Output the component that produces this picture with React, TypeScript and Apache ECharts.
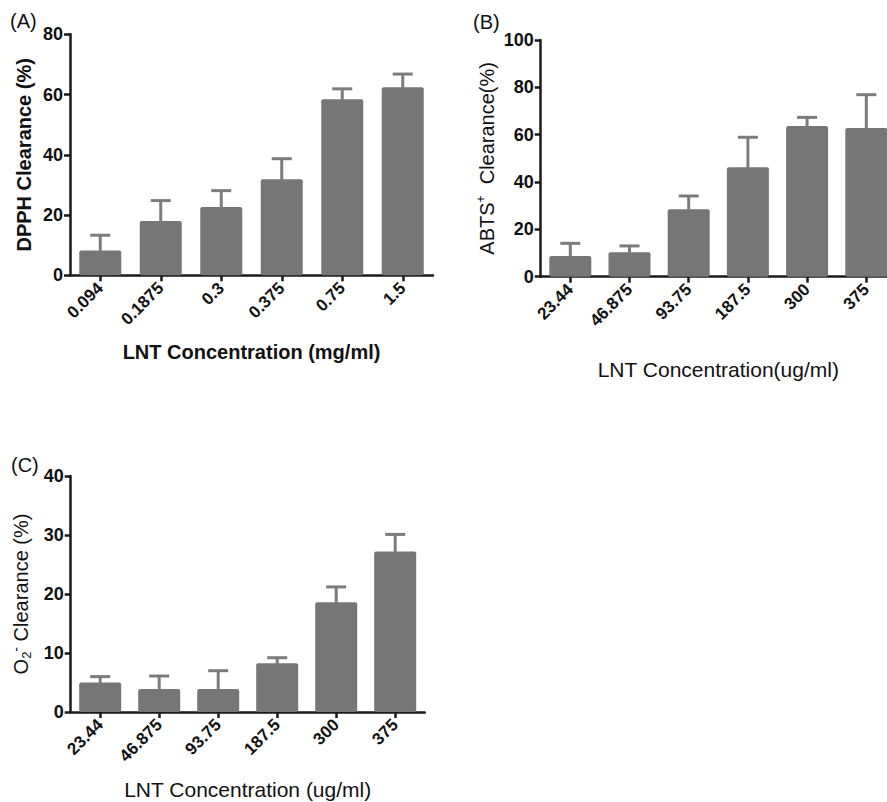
import React, { useEffect, useRef } from 'react';
import * as echarts from 'echarts';

// ---- data ----
const dpphConc = ['0.094', '0.1875', '0.3', '0.375', '0.75', '1.5'];
const dpphMean = [8.2, 18.0, 22.7, 31.9, 58.4, 62.4];
const dpphSd = [5.1, 6.8, 5.4, 6.8, 3.5, 4.4];

const abtsConc = ['23.44', '46.875', '93.75', '187.5', '300', '375'];
const abtsMean = [8.7, 10.3, 28.5, 46.2, 63.7, 62.8];
const abtsSd = [5.4, 2.7, 5.6, 12.7, 3.6, 14.1];

const o2Conc = ['23.44', '46.875', '93.75', '187.5', '300', '375'];
const o2Mean = [5.0, 3.9, 3.9, 8.25, 18.6, 27.2];
const o2Sd = [1.0, 2.2, 3.1, 0.95, 2.6, 2.9];

const yMaxA = 80, yStepA = 20;
const yMaxB = 100, yStepB = 20;
const yMaxC = 40, yStepC = 10;

const FONT = "'Liberation Sans', Arial, Helvetica, sans-serif";
const BAR = '#767676';
const ERR = '#7c7c7c';
const AXIS = '#1a1a1a';

const renderErr = (params: any, api: any) => {
  const top = api.coord([api.value(0), api.value(1)]);
  const cap = api.coord([api.value(0), api.value(2)]);
  const style = { stroke: ERR, lineWidth: 3, fill: null };
  return {
    type: 'group',
    children: [
      { type: 'line', shape: { x1: top[0], y1: top[1] + 1, x2: cap[0], y2: cap[1] }, style },
      { type: 'line', shape: { x1: cap[0] - 10, y1: cap[1], x2: cap[0] + 10, y2: cap[1] }, style },
    ],
  };
};

const axisLine = { show: true, lineStyle: { color: AXIS, width: 2.5 } };
const axisTick = { show: true, length: 6, lineStyle: { color: AXIS, width: 2.5 } };

function xAxis(gridIndex: number, cats: string[], name: string, bold: boolean, nameGap: number) {
  return {
    type: 'category',
    gridIndex,
    data: cats,
    axisLine,
    axisTick: { ...axisTick, alignWithLabel: true },
    axisLabel: { rotate: 45, margin: 10, fontSize: 17, fontWeight: 'bold', color: '#111', fontFamily: FONT, interval: 0 },
    name,
    nameLocation: 'middle',
    nameGap,
    nameTextStyle: { fontSize: bold ? 20 : 21, fontWeight: bold ? 'bold' : 'normal', color: '#111', fontFamily: FONT },
  };
}

function yAxis(gridIndex: number, max: number, step: number, name: string, nameGap: number, nameStyle: any) {
  return {
    type: 'value',
    gridIndex,
    min: 0,
    max,
    interval: step,
    splitLine: { show: false },
    axisLine,
    axisTick,
    axisLabel: { margin: 7, fontSize: 18, fontWeight: 'bold', color: '#111', fontFamily: FONT },
    name,
    nameLocation: 'middle',
    nameGap,
    nameTextStyle: nameStyle,
  };
}

function barSeries(idx: number, vals: number[]) {
  return {
    type: 'bar',
    xAxisIndex: idx,
    yAxisIndex: idx,
    data: vals,
    barWidth: 42,
    itemStyle: { color: BAR, borderRadius: 2 },
    z: 2,
  };
}

function errSeries(idx: number, vals: number[], sd: number[]) {
  return {
    type: 'custom',
    xAxisIndex: idx,
    yAxisIndex: idx,
    renderItem: renderErr,
    data: vals.map((v, i) => [i, v, v + sd[i]]),
    encode: { x: 0, y: [1, 2] },
    z: 3,
  };
}

export default function App() {
  const ref = useRef<HTMLDivElement>(null);
  useEffect(() => {
    document.body.style.margin = '0';
    const chart = echarts.init(ref.current!, undefined, { renderer: 'svg' });
    const normal20 = { fontSize: 20, fontWeight: 'normal', color: '#111', fontFamily: FONT };
    chart.setOption({
      animation: false,
      backgroundColor: '#ffffff',
      textStyle: { fontFamily: FONT },
      grid: [
        { left: 70, top: 34.3, width: 363, height: 241, containLabel: false, outerBoundsMode: 'none' },
        { left: 540.7, top: 40, width: 355.2, height: 236.7, containLabel: false, outerBoundsMode: 'none' },
        { left: 70.7, top: 476, width: 354, height: 236, containLabel: false, outerBoundsMode: 'none' },
      ],
      xAxis: [
        xAxis(0, dpphConc, 'LNT Concentration (mg/ml)', true, 67),
        xAxis(1, abtsConc, 'LNT Concentration(ug/ml)', false, 82),
        xAxis(2, o2Conc, 'LNT Concentration (ug/ml)', false, 67),
      ],
      yAxis: [
        yAxis(0, yMaxA, yStepA, 'DPPH Clearance (%)', 36, { fontSize: 20, fontWeight: 'bold', color: '#111', fontFamily: FONT }),
        yAxis(1, yMaxB, yStepB, '{n|ABTS}{sup|+}{n|  Clearance(%)}', 42, {
          ...normal20,
          rich: {
            n: { ...normal20, lineHeight: 24 },
            sup: { fontSize: 12, color: '#111', fontFamily: FONT, verticalAlign: 'top', lineHeight: 24 },
          },
        }),
        yAxis(2, yMaxC, yStepC, '{n|O}{sub|2}{sup|-}{n| Clearance (%)}', 38, {
          ...normal20,
          rich: {
            n: { ...normal20, lineHeight: 24 },
            sub: { fontSize: 13, color: '#111', fontFamily: FONT, verticalAlign: 'bottom', lineHeight: 20 },
            sup: { fontSize: 14, color: '#111', fontFamily: FONT, verticalAlign: 'top', lineHeight: 24 },
          },
        }),
      ],
      series: [
        barSeries(0, dpphMean), errSeries(0, dpphMean, dpphSd),
        barSeries(1, abtsMean), errSeries(1, abtsMean, abtsSd),
        barSeries(2, o2Mean), errSeries(2, o2Mean, o2Sd),
      ],
      graphic: [
        { type: 'text', left: 10, top: 11, style: { text: '(A)', fontSize: 20, fontFamily: FONT, fill: '#111' } },
        { type: 'text', left: 473, top: 12, style: { text: '(B)', fontSize: 20, fontFamily: FONT, fill: '#111' } },
        { type: 'text', left: 11, top: 455, style: { text: '(C)', fontSize: 20, fontFamily: FONT, fill: '#111' } },
      ],
    });
    return () => chart.dispose();
  }, []);
  return <div ref={ref} style={{ width: 887, height: 802, position: 'absolute', left: 0, top: 0, overflow: 'hidden' }} />;
}
